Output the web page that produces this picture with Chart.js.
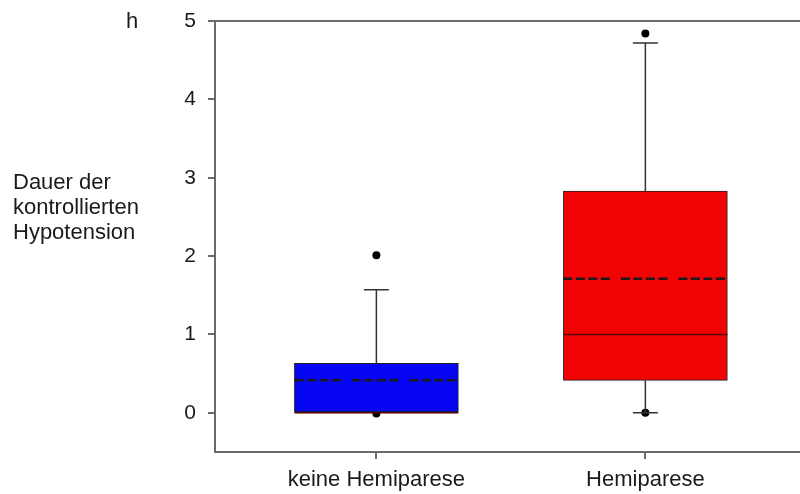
<!DOCTYPE html>
<html>
<head>
<meta charset="utf-8">
<script src="https://cdn.jsdelivr.net/npm/chart.js@4"></script>
<style>
  body { margin: 0; background: #fff; }
  canvas { display: block; }
</style>
</head>
<body>
<canvas id="boxCanvas" width="800" height="494"></canvas>
<script>
// Dauer der kontrollierten Hypotension, Boxplot je Gruppe
const categories = ["keine Hemiparese", "Hemiparese"];
const positions = [1, 2];
const q1 = [0, 0.415];
const median = [0, 1.0];
const q3 = [0.63, 2.83];
const mean = [0.415, 1.71];
const whiskerLow = [0, 0];
const whiskerHigh = [1.57, 4.72];
const outliers = [[2.01, -0.01], [4.84, 0]];
const yTicks = [0, 1, 2, 3, 4, 5];

const boxColors = ["#0606f2", "#f20303"];
const axisColor = "#6b6b6b";
const fontFamily = "'Liberation Sans', Arial, sans-serif";

// Whiskers, caps, median and mean lines drawn on top of the boxes
const boxDetails = {
  id: "boxDetails",
  afterDatasetsDraw(chart) {
    const { ctx, chartArea } = chart;
    const x = chart.scales.x, y = chart.scales.y;
    const bars = chart.getDatasetMeta(0).data;

    ctx.save();
    // top frame line, and the x axis line run on to the canvas edge
    ctx.strokeStyle = axisColor;
    ctx.lineWidth = 2;
    ctx.beginPath();
    ctx.moveTo(chartArea.left, chartArea.top);
    ctx.lineTo(chart.width, chartArea.top);
    ctx.moveTo(chartArea.right - 2, chartArea.bottom);
    ctx.lineTo(chart.width, chartArea.bottom);
    ctx.stroke();

    positions.forEach((p, i) => {
      const cx = x.getPixelForValue(p);
      const half = bars[i].width / 2;
      const capHalf = 12.5;

      ctx.strokeStyle = "#333";
      ctx.lineWidth = 1.5;
      ctx.setLineDash([]);
      const whisker = (from, to) => {
        if (from === to) return;
        ctx.beginPath();
        ctx.moveTo(cx, y.getPixelForValue(from));
        ctx.lineTo(cx, y.getPixelForValue(to));
        ctx.moveTo(cx - capHalf, y.getPixelForValue(to));
        ctx.lineTo(cx + capHalf, y.getPixelForValue(to));
        ctx.stroke();
      };
      whisker(q3[i], whiskerHigh[i]);
      whisker(q1[i], whiskerLow[i]);

      // median
      ctx.strokeStyle = "#5a0000";
      ctx.lineWidth = 1.5;
      ctx.beginPath();
      ctx.moveTo(cx - half, y.getPixelForValue(median[i]));
      ctx.lineTo(cx + half, y.getPixelForValue(median[i]));
      ctx.stroke();

      // mean (dashed)
      ctx.strokeStyle = "#1a1a1a";
      ctx.lineWidth = 2.5;
      ctx.setLineDash([9, 3.5, 9, 3.5, 9, 3.5, 9, 11]);
      ctx.beginPath();
      ctx.moveTo(cx - half, y.getPixelForValue(mean[i]));
      ctx.lineTo(cx + half, y.getPixelForValue(mean[i]));
      ctx.stroke();
    });
    ctx.restore();
  },
  afterDraw(chart) {
    const ctx = chart.ctx;
    ctx.save();
    ctx.fillStyle = "#1a1a1a";
    ctx.font = "22px " + fontFamily;
    ctx.textAlign = "left";
    ctx.textBaseline = "alphabetic";
    ctx.fillText("h", 126, 28);
    ["Dauer der", "kontrollierten", "Hypotension"].forEach((line, i) => {
      ctx.fillText(line, 13, 189 + i * 25);
    });
    ctx.restore();
  }
};

new Chart(document.getElementById("boxCanvas"), {
  type: "bar",
  data: {
    datasets: [
      {
        data: positions.map((p, i) => ({ x: p, y: [q1[i], q3[i]] })),
        backgroundColor: boxColors,
        borderColor: "#222",
        borderWidth: 1,
        borderSkipped: false,
        barThickness: 164,
        grouped: false
      },
      {
        type: "scatter",
        data: positions.flatMap((p, i) => outliers[i].map(v => ({ x: p, y: v }))),
        pointRadius: 4,
        pointBackgroundColor: "#000",
        pointBorderWidth: 0
      }
    ]
  },
  options: {
    responsive: false,
    devicePixelRatio: 1,
    animation: false,
    layout: { padding: { top: 21, left: 0, right: 0, bottom: 0 } },
    plugins: { legend: { display: false }, tooltip: { enabled: false } },
    scales: {
      x: {
        type: "linear",
        min: 0.4,
        max: 2.56,
        offset: false,
        afterBuildTicks: s => { s.ticks = positions.map(v => ({ value: v })); },
        afterFit: s => { s.height = 42; s.paddingLeft = 0; s.paddingRight = 0; },
        ticks: {
          callback: v => categories[positions.indexOf(v)],
          font: { family: fontFamily, size: 22 },
          color: "#1a1a1a",
          padding: 8,
          maxRotation: 0
        },
        grid: { offset: false, drawOnChartArea: false, tickLength: 7, color: axisColor, lineWidth: 2 },
        border: { color: axisColor, width: 2 }
      },
      y: {
        min: -0.5,
        max: 5,
        afterBuildTicks: s => { s.ticks = yTicks.map(v => ({ value: v })); },
        afterFit: s => { s.width = 215; s.paddingTop = 0; s.paddingBottom = 0; },
        ticks: { font: { family: fontFamily, size: 21 }, color: "#1a1a1a", padding: 12 },
        grid: { drawOnChartArea: false, tickLength: 7, color: axisColor, lineWidth: 2 },
        border: { color: axisColor, width: 2 }
      }
    }
  },
  plugins: [boxDetails]
});
</script>
</body>
</html>
